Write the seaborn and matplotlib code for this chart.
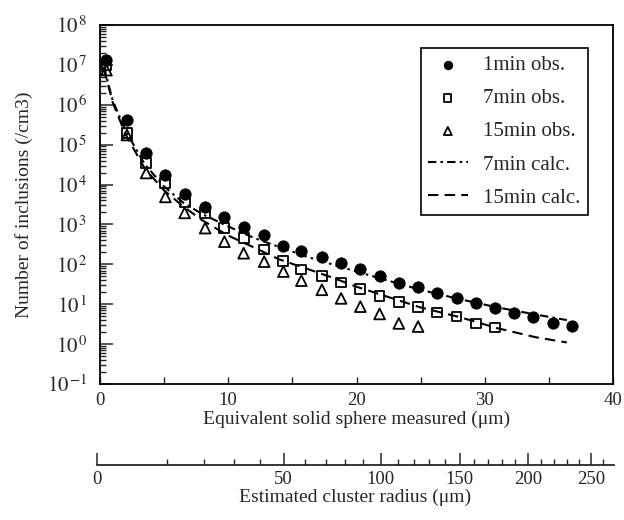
import numpy as np
import matplotlib
matplotlib.use('Agg')
import matplotlib.pyplot as plt
import seaborn as sns
from matplotlib.ticker import MultipleLocator, FixedLocator, LogLocator, FuncFormatter, NullFormatter

# ================================
# 1. DATA
# ================================
x_obs = [0.5, 2.1, 3.6, 5.1, 6.6, 8.2, 9.7, 11.2, 12.8, 14.3, 15.7, 17.3, 18.8,
         20.3, 21.8, 23.3, 24.8, 26.3, 27.8, 29.3, 30.8, 32.3, 33.8, 35.3, 36.8]

n_1min = [1.3e7, 4.2e5, 6.3e4, 1.7e4, 5.8e3, 2.7e3, 1.5e3, 870, 550, 295, 220, 155, 110,
          76, 51, 35, 27, 19, 14, 11, 7.9, 5.9, 4.7, 3.3, 2.9]
n_7min = [1.0e7, 1.95e5, 3.5e4, 1.1e4, 3.7e3, 1.95e3, 810, 450, 235, 120, 74, 50, 35,
          24, 16, 11.5, 8.5, 6.2, 4.9, 3.3, 2.6]
n_15min = [7.4e6, 1.75e5, 1.95e4, 4.9e3, 1.95e3, 810, 370, 190, 117, 66, 39, 23, 14,
           8.7, 5.7, 3.3, 2.75]

x_calc = [0.3, 1, 2, 3.5, 5, 6.5, 8, 10, 12, 14, 16, 18, 20, 22, 25, 28, 31, 34, 36.4]
calc_7min = [8.9e6, 1.26e6, 2.2e5, 3.2e4, 8.9e3, 3.5e3, 1.8e3, 890, 460, 270, 160, 102,
             66, 43, 23, 13.5, 8.3, 5.5, 4.0]
calc_15min = [7.9e6, 1.12e6, 1.78e5, 2.5e4, 7.1e3, 2.8e3, 1.26e3, 525, 265, 132, 80, 48,
              27.5, 17, 8.3, 4.8, 2.5, 1.48, 1.1]

radius_major = [0, 50, 100, 150, 200, 250]
radius_minor = [r for r in range(10, 280, 10) if r % 50 != 0]

# cluster radius -> equivalent solid sphere (fractal relation)
def fwd(r):
    r = np.asarray(r, dtype=float)
    return 1.36 * np.sign(r) * np.abs(r) ** 0.605

def inv(d):
    d = np.asarray(d, dtype=float)
    return np.sign(d) * (np.abs(d) / 1.36) ** (1 / 0.605)

def pow10_label(v, pos):
    e = int(round(np.log10(v)))
    return r'$10^{\,{%d}}$' % e

# ================================
# 2. STYLE
# ================================
sns.set_style('ticks')
plt.rcParams['font.family'] = ['Liberation Serif', 'DejaVu Serif']
plt.rcParams['mathtext.fontset'] = 'stix'
plt.rcParams['font.size'] = 14

fig = plt.figure(figsize=(6.24, 5.2), dpi=100)
ax = fig.add_axes([100 / 624, 1 - 384 / 520, 513 / 624, 359 / 520])

# ================================
# 3. PLOT
# ================================
sns.lineplot(x=x_calc, y=calc_7min, ax=ax, color='black', lw=1.5,
             linestyle=(0, (4, 2, 1.2, 2)), label='7min calc.')
sns.lineplot(x=x_calc, y=calc_15min, ax=ax, color='black', lw=1.5,
             linestyle=(0, (5, 3)), label='15min calc.')

sns.scatterplot(x=x_obs, y=n_1min, ax=ax, marker='o', s=66, color='black',
                edgecolor='black', label='1min obs.', zorder=3)
sns.scatterplot(x=x_obs[:len(n_7min)], y=n_7min, ax=ax, marker='s', s=50,
                label='7min obs.', zorder=3)
sns.scatterplot(x=x_obs[:len(n_15min)], y=n_15min, ax=ax, marker='^', s=60,
                label='15min obs.', zorder=3)
for coll in ax.collections:
    if coll.get_label() in ('7min obs.', '15min obs.'):
        coll.set_facecolor('none')
        coll.set_edgecolor('black')
        coll.set_linewidth(1.3)
    elif coll.get_label() == '1min obs.':
        coll.set_facecolor('black')
        coll.set_edgecolor('black')

ax.set_yscale('log')
ax.set_xlim(0, 40)
ax.set_ylim(1e-1, 1e8)
ax.xaxis.set_major_locator(MultipleLocator(10))
ax.xaxis.set_minor_locator(MultipleLocator(5))
ax.yaxis.set_major_locator(LogLocator(base=10, numticks=20))
ax.yaxis.set_minor_locator(LogLocator(base=10, subs=np.arange(2, 10), numticks=20))
ax.yaxis.set_major_formatter(FuncFormatter(pow10_label))
ax.yaxis.set_minor_formatter(NullFormatter())
ax.tick_params(axis='x', which='both', direction='in', length=5, width=1, pad=6,
               labelsize=13.5)
ax.tick_params(axis='y', which='major', direction='in', length=9, width=1.1, pad=9,
               labelsize=15)
ax.tick_params(axis='y', which='minor', direction='in', length=4.5, width=1)
for sp in ax.spines.values():
    sp.set_linewidth(1.3)
    sp.set_color('black')

ax.set_xlabel('Equivalent solid sphere measured (μm)', labelpad=1, fontsize=14)
ax.set_ylabel('Number of inclusions (/cm3)', labelpad=10, fontsize=14)

h, l = ax.get_legend_handles_labels()
order = ['1min obs.', '7min obs.', '15min obs.', '7min calc.', '15min calc.']
handles = [h[l.index(k)] for k in order]
leg = ax.legend(handles, order, loc='upper right', bbox_to_anchor=(0.951, 0.935),
                borderaxespad=0, frameon=True, fancybox=False, edgecolor='black',
                framealpha=1, fontsize=15, handlelength=1.9, labelspacing=0.65,
                borderpad=0.35, handletextpad=0.75, markerscale=0.75, scatterpoints=1)
leg.get_frame().set_linewidth(1.2)

# ================================
# 4. SECONDARY RADIUS AXIS
# ================================
ax2 = fig.add_axes([97 / 624, 1 - 465 / 520, 517 / 624, 0.04])
ax2.set_xscale('function', functions=(fwd, inv))
ax2.set_xlim(0, float(inv(40.2)))
ax2.set_yticks([])
ax2.patch.set_visible(False)
for s in ['left', 'right', 'top']:
    ax2.spines[s].set_visible(False)
ax2.spines['bottom'].set_linewidth(1.3)
ax2.xaxis.set_major_locator(FixedLocator(radius_major))
ax2.xaxis.set_minor_locator(FixedLocator(radius_minor))
ax2.xaxis.set_major_formatter(FuncFormatter(lambda v, p: '%d' % v))
ax2.xaxis.set_minor_formatter(NullFormatter())
ax2.tick_params(axis='x', which='major', direction='in', length=9, width=1.1, pad=4,
                labelsize=13.5)
ax2.tick_params(axis='x', which='minor', direction='in', length=4.5, width=1)
ax2.set_xlabel('Estimated cluster radius (μm)', labelpad=1, fontsize=14)

fig.savefig('out.png', dpi=100)
